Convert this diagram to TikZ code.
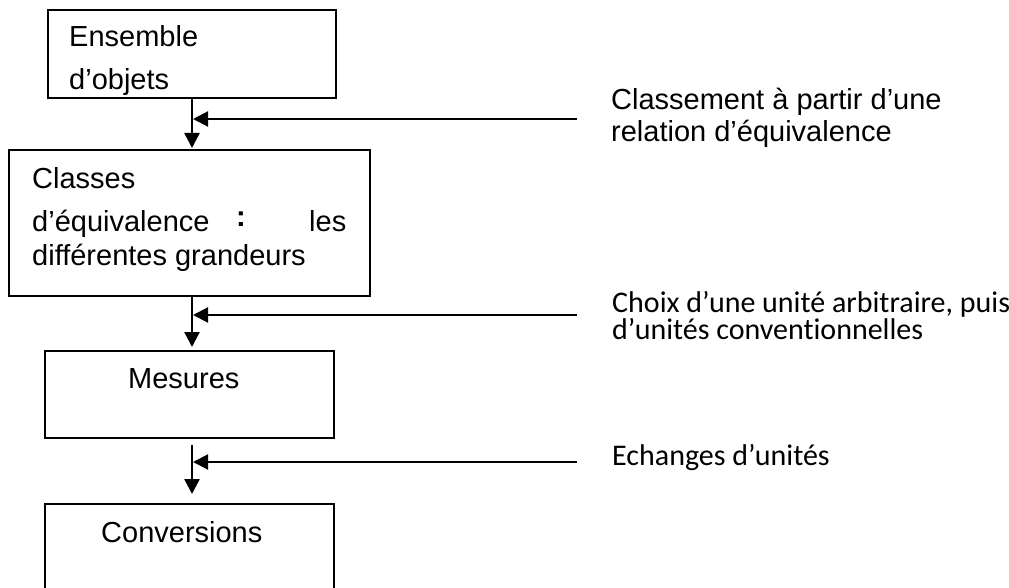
\documentclass[tikz,border=0pt]{standalone}
\usepackage{fontspec}
\setmainfont{Liberation Sans}
\newfontfamily\calib[Ligatures=NoCommon]{Carlito}
\usetikzlibrary{arrows.meta}
\begin{document}
\begin{tikzpicture}[x=1pt,y=-1pt,
  box/.style={draw=black,line width=2pt,inner sep=0pt},
  txt/.style={anchor=base west,inner sep=0pt,font=\fontsize{29}{29}\selectfont},
  ctxt/.style={anchor=base west,inner sep=0pt,font=\calib\fontsize{30}{30}\selectfont},
  flow/.style={line width=2.4pt,-{Triangle[length=15pt,width=15pt]}},
  side/.style={line width=2pt,-{Triangle[length=15pt,width=15pt]}}]
\useasboundingbox (0,0) rectangle (1009,588);
\clip (0,0) rectangle (1009,588);
\fill[white] (0,0) rectangle (1009,588);
% boxes
\node[box,minimum width=288pt,minimum height=88pt] (b1) at (192,54) {};
\node[box,minimum width=361pt,minimum height=146pt] (b2) at (189.5,223) {};
\node[box,minimum width=289pt,minimum height=87pt] (b3) at (189.5,394.5) {};
\node[box,minimum width=289pt,minimum height=100pt] (b4) at (189.5,554) {};
% box texts
\node[txt] (t1a) at (69,47) {Ensemble};
\node[txt] (t1b) at (69,90) {d’objets};
\node[txt] (t2a) at (32,189) {Classes};
\node[txt] (t2b) at (32,232) {d’équivalence};
\node[txt] (t2c) at (236,226) {\textbf{:}};
\node[txt] (t2d) at (309,232) {les};
\node[txt] (t2e) at (32,265) {différentes grandeurs};
\node[txt] (t3) at (128,388) {Mesures};
\node[txt] (t4) at (101,542) {Conversions};
% side labels
\node[txt] (l1a) at (611,110) {Classement à partir d’une};
\node[txt] (l1b) at (611,142) {relation d’équivalence};
\node[ctxt] (l2a) at (612,312) {Choix d’une unité arbitraire, puis};
\node[ctxt] (l2b) at (612,339) {d’unités conventionnelles};
\node[ctxt] (l3) at (612,465) {Echanges d’unités};
% flow connectors
\coordinate (a1s) at (192,98);
\coordinate (a1e) at (192,148);
\coordinate (a2s) at (192,296);
\coordinate (a2e) at (192,347);
\coordinate (a3s) at (192,445);
\coordinate (a3e) at (192,494);
\draw[flow] (a1s) -- (a1e);
\draw[flow] (a2s) -- (a2e);
\draw[flow] (a3s) -- (a3e);
% side arrows
\coordinate (h1) at (577,119);
\coordinate (h2) at (577,315);
\coordinate (h3) at (577,462);
\draw[side] (h1) -- ([xshift=1pt]h1 -| a1s);
\draw[side] (h2) -- ([xshift=1pt]h2 -| a2s);
\draw[side] (h3) -- ([xshift=1pt]h3 -| a3s);
\end{tikzpicture}
\end{document}
